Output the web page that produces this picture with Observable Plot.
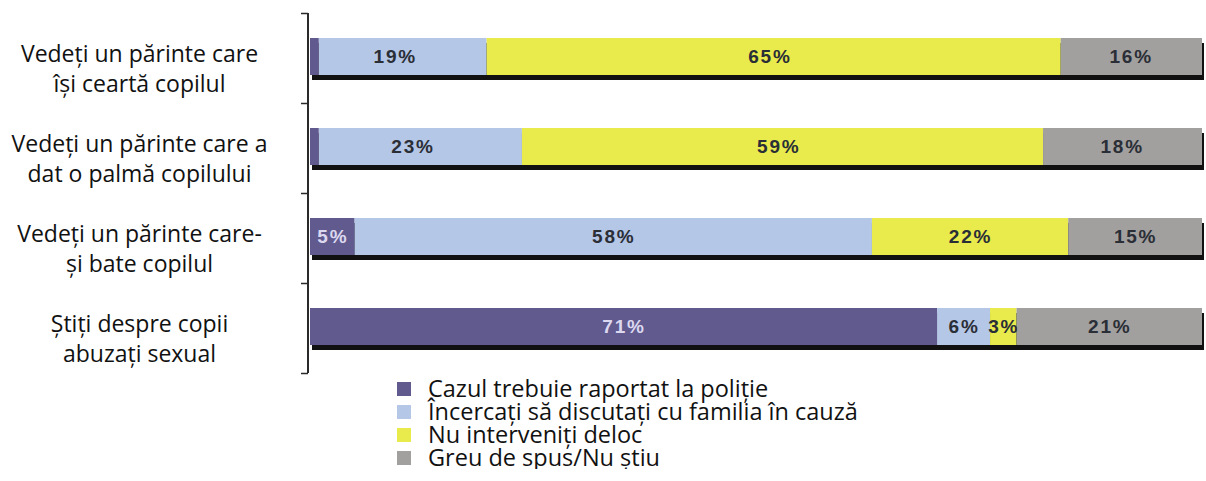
<!DOCTYPE html>
<html>
<head>
<meta charset="utf-8">
<script src="https://cdn.jsdelivr.net/npm/d3@7"></script>
<script src="https://cdn.jsdelivr.net/npm/@observablehq/plot@0.6"></script>
<style>
  body { margin: 0; background: #fff; }
  #chart svg { display: block; }
  #legend { display: flex; margin-left: 397px; margin-top: 2px; }
  #swatches { display: flex; flex-direction: column; margin-right: 17px; }
  .cell { height: 23px; display: flex; align-items: center; }
  .sw { width: 14px; height: 14px; filter: blur(0.6px); }
  #labels { font-family: "Open Sans", sans-serif; font-size: 23.5px; line-height: 23px; color: #111; white-space: nowrap; }
</style>
</head>
<body>
<div id="chart"></div>
<div id="legend"><div id="swatches"></div><div id="labels"></div></div>
<script>
const categories = [
  "Vedeți un părinte care\nîși ceartă copilul",
  "Vedeți un părinte care a\ndat o palmă copilului",
  "Vedeți un părinte care-\nși bate copilul",
  "Știți despre copii\nabuzați sexual"
];
const series = [
  "Cazul trebuie raportat la poliție",
  "Încercați să discutați cu familia în cauză",
  "Nu interveniți deloc",
  "Greu de spus/Nu știu"
];
const police  = [1, 1, 5, 71];
const discuss = [19, 23, 58, 6];
const noAct   = [65, 59, 22, 3];
const unknown = [16, 18, 15, 21];
const colors = ["#615a8f", "#b5c7e7", "#e8eb4b", "#a2a09f"];

const seriesValues = [police, discuss, noAct, unknown];
const data = [];
categories.forEach((c, i) => {
  series.forEach((s, j) => data.push({cat: c, series: s, value: seriesValues[j][i], idx: j}));
});

const W = 1206, H = 375, mL = 310, mR = 4, mT = 13, mB = 2;
const step = (H - mT - mB) / categories.length;
const frameW = W - mL - mR;

const chart = Plot.plot({
  width: W, height: H,
  marginLeft: mL, marginRight: mR, marginTop: mT, marginBottom: mB,
  x: {axis: null, domain: [0, 1]},
  y: {axis: null, domain: categories, padding: 0},
  color: {domain: series, range: colors},
  marks: [
    Plot.ruleX([0], {dx: -2.5, stroke: "#2a2a2a", strokeWidth: 2}),
    Plot.tickY(categories, {y: d => d, dy: -step / 2, insetLeft: -9, insetRight: frameW + 2, stroke: "#2a2a2a", strokeWidth: 1.5}),
    Plot.tickY([categories[categories.length - 1]], {y: d => d, dy: step / 2, insetLeft: -9, insetRight: frameW + 2, stroke: "#2a2a2a", strokeWidth: 1.5}),
    Plot.text(categories, {y: d => d, text: d => d, frameAnchor: "left", dx: -171, dy: 9, textAnchor: "middle", lineHeight: 1.3, fontSize: 23, fontFamily: "Open Sans", fill: "#111"}),
    Plot.barX(categories, {y: d => d, x1: 0, x2: 1, fill: "#111", insetTop: 30, insetBottom: 23, dx: 2}),
    Plot.barX(data, Plot.stackX({y: "cat", x: "value", fill: "series", order: series, offset: "normalize", insetTop: 25, insetBottom: 28})),
    Plot.text(data.filter(d => d.value >= 3), Plot.stackX({
      y: "cat", x: "value", order: series, offset: "normalize",
      text: d => d.value + "%", dy: -1.5,
      fill: d => d.idx === 0 ? "#dcd8f0" : "#2a2e36",
      fontSize: 19, fontWeight: "bold", fontFamily: "Liberation Sans, Arial, sans-serif"
    }))
  ]
});
chart.querySelectorAll("text").forEach(t => { if (t.textContent.endsWith("%")) t.setAttribute("letter-spacing", "1.8"); });
document.getElementById("chart").appendChild(chart);

const swatches = document.getElementById("swatches");
const labels = document.getElementById("labels");
series.forEach((s, j) => {
  const cell = document.createElement("div");
  cell.className = "cell";
  const sw = document.createElement("span");
  sw.className = "sw";
  sw.style.background = colors[j];
  cell.appendChild(sw);
  swatches.appendChild(cell);
  if (j > 0) labels.appendChild(document.createElement("br"));
  labels.appendChild(document.createTextNode(s));
});
</script>
</body>
</html>
